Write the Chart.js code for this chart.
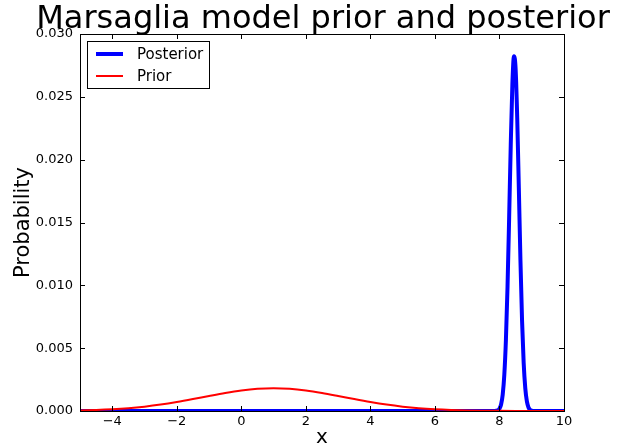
<!DOCTYPE html>
<html>
<head>
<meta charset="utf-8">
<script src="https://cdn.jsdelivr.net/npm/chart.js@4"></script>
<style>
  html, body { margin: 0; padding: 0; background: #fff; }
  #wrap { width: 623px; height: 446px; }
</style>
</head>
<body>
<div id="wrap"><canvas id="c" width="623" height="446"></canvas></div>
<script>
// values
const postX = [-5, 7.85, 7.9, 7.95, 8.0, 8.05, 8.1, 8.15, 8.2, 8.25, 8.3, 8.35, 8.4, 8.45, 8.5, 8.55, 8.6, 8.65, 8.7, 8.75, 8.8, 8.85, 8.9, 8.95, 9.0, 9.05, 10];
const postY = [0, 0.000004, 0.000016, 0.000058, 0.000185, 0.00052, 0.0013, 0.00288, 0.00567, 0.00991, 0.0154, 0.0212, 0.0260, 0.02823, 0.02724, 0.02334, 0.01776, 0.0120, 0.00719, 0.00383, 0.00181, 0.00076, 0.000284, 0.000094, 0.000028, 0.000007, 0];

const priorX = [-5, -4.5, -4, -3.5, -3, -2.5, -2, -1.5, -1, -0.5, 0, 0.5, 1, 1.5, 2, 2.5, 3, 3.5, 4, 4.5, 5, 5.5, 6, 6.5, 7, 7.5, 8, 8.5, 9, 9.5, 10];
const priorY = [0.000044, 0.00008, 0.000137, 0.000223, 0.000347, 0.00051, 0.000714, 0.000948, 0.001198, 0.001435, 0.001632, 0.001764, 0.00181, 0.001764, 0.001632, 0.001435, 0.001198, 0.000948, 0.000714, 0.00051, 0.000347, 0.000223, 0.000137, 0.00008, 0.000044, 0.000023, 0.0000115, 0.0000054, 0.0000024, 0.000001, 0.0000004];

const xTicks = [-4, -2, 0, 2, 4, 6, 8, 10];
const yTicks = [0, 0.005, 0.01, 0.015, 0.02, 0.025, 0.03];

const TITLE = 'Marsaglia model prior and posterior';
const FONT = 'DejaVu Sans';

const toPts = (xs, ys) => xs.map((x, i) => ({ x: x, y: ys[i] }));

// matplotlib look: frame, inward ticks on all four sides, boxed legend, title over plot
const mplAxes = {
  id: 'mplAxes',
  afterDatasetsDraw(chart) {
    const ctx = chart.ctx;
    const a = chart.chartArea;
    const xs = chart.scales.x, ys = chart.scales.y;
    ctx.save();
    ctx.strokeStyle = '#000';
    ctx.lineWidth = 1;
    ctx.beginPath();
    xs.ticks.forEach(t => {
      const px = Math.round(xs.getPixelForValue(t.value)) + 0.5;
      ctx.moveTo(px, a.bottom); ctx.lineTo(px, a.bottom - 5);
      ctx.moveTo(px, a.top); ctx.lineTo(px, a.top + 5);
    });
    ys.ticks.forEach(t => {
      const py = Math.round(ys.getPixelForValue(t.value)) + 0.5;
      ctx.moveTo(a.left, py); ctx.lineTo(a.left + 5, py);
      ctx.moveTo(a.right, py); ctx.lineTo(a.right - 5, py);
    });
    ctx.stroke();
    ctx.strokeRect(Math.round(a.left) + 0.5, Math.round(a.top) + 0.5,
      Math.round(a.right - a.left), Math.round(a.bottom - a.top));
    ctx.restore();
  },
  afterDraw(chart) {
    const ctx = chart.ctx;
    const a = chart.chartArea;
    ctx.save();
    // title
    ctx.fillStyle = '#000';
    ctx.font = '32px "' + FONT + '"';
    ctx.textAlign = 'center';
    ctx.textBaseline = 'alphabetic';
    ctx.fillText(TITLE, (a.left + a.right) / 2 + 1, 28);
    // legend
    const bx = a.left + 7, by = a.top + 7;
    ctx.textAlign = 'left';
    ctx.fillStyle = '#fff';
    ctx.fillRect(bx, by, 122, 47);
    ctx.strokeStyle = '#000';
    ctx.lineWidth = 1;
    ctx.strokeRect(bx + 0.5, by + 0.5, 122, 47);
    ctx.font = '15px "' + FONT + '"';
    ctx.textBaseline = 'middle';
    chart.data.datasets.forEach((ds, i) => {
      const y = by + 13 + i * 22;
      ctx.strokeStyle = ds.borderColor;
      ctx.lineWidth = ds.borderWidth;
      ctx.beginPath();
      ctx.moveTo(bx + 9, y); ctx.lineTo(bx + 36, y);
      ctx.stroke();
      ctx.fillStyle = '#000';
      ctx.fillText(ds.label, bx + 50, y + 1);
    });
    ctx.restore();
  }
};

new Chart(document.getElementById('c'), {
  type: 'line',
  data: {
    datasets: [
      {
        label: 'Posterior',
        data: toPts(postX, postY),
        borderColor: '#0000ff',
        borderWidth: 4,
        pointRadius: 0,
        cubicInterpolationMode: 'monotone',
        order: 1,
      },
      {
        label: 'Prior',
        data: toPts(priorX, priorY),
        borderColor: '#ff0000',
        borderWidth: 2,
        pointRadius: 0,
        cubicInterpolationMode: 'monotone',
        order: 0,
      },
    ],
  },
  options: {
    responsive: false,
    animation: false,
    events: [],
    layout: {
      padding: { left: 11, right: 59, top: 34, bottom: 0 },
    },
    scales: {
      x: {
        type: 'linear',
        min: -5,
        max: 10,
        afterBuildTicks: s => { s.ticks = xTicks.map(v => ({ value: v })); },
        afterFit: s => { s.height = 35; },
        grid: { display: false, drawTicks: false },
        border: { display: false },
        ticks: {
          color: '#000',
          padding: 3,
          maxRotation: 0,
          font: { family: FONT, size: 13 },
          callback: v => String(v).replace('-', '\u2212'),
        },
        title: {
          display: true,
          text: 'x',
          color: '#000',
          font: { family: FONT, size: 20, lineHeight: 1 },
          padding: { top: 0, bottom: -2 },
        },
      },
      y: {
        type: 'linear',
        min: 0,
        max: 0.03,
        afterBuildTicks: s => { s.ticks = yTicks.map(v => ({ value: v })); },
        afterFit: s => { s.width = 69; },
        grid: { display: false, drawTicks: false },
        border: { display: false },
        ticks: {
          color: '#000',
          padding: 7,
          font: { family: FONT, size: 13 },
          callback: v => v.toFixed(3),
        },
        title: {
          display: true,
          text: 'Probability',
          color: '#000',
          font: { family: FONT, size: 21 },
          padding: { top: 0, bottom: 0 },
        },
      },
    },
    plugins: {
      legend: { display: false },
      tooltip: { enabled: false },
      title: { display: false },
    },
  },
  plugins: [mplAxes],
});
</script>
</body>
</html>
